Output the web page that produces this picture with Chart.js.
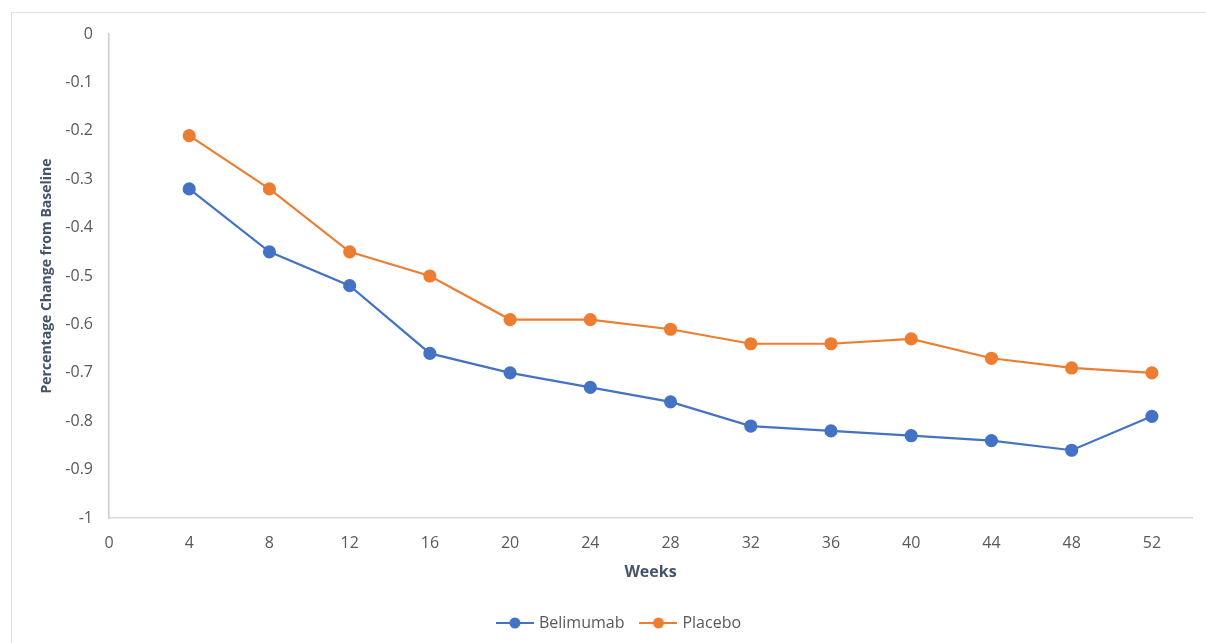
<!DOCTYPE html>
<html>
<head>
<meta charset="utf-8">
<script src="https://cdn.jsdelivr.net/npm/chart.js@4"></script>
<style>
  html, body { margin: 0; padding: 0; background: #ffffff; }
  body { width: 1206px; height: 643px; position: relative; overflow: hidden; }
  #frame {
    position: absolute; left: 11px; top: 12px; width: 1300px; height: 700px;
    border-top: 1px solid #dde0e6; border-left: 1px solid #dde0e6;
  }
  #wrap { position: absolute; left: 0; top: 0; width: 1206px; height: 643px; }
</style>
</head>
<body>
<div id="frame"></div>
<div id="wrap"><canvas id="chart" width="1206" height="643"></canvas></div>
<script>
// Weeks of follow-up
const weeks = [4, 8, 12, 16, 20, 24, 28, 32, 36, 40, 44, 48, 52];
// Mean percentage change from baseline per arm
const belimumab = [-0.32, -0.45, -0.52, -0.66, -0.70, -0.73, -0.76, -0.81, -0.82, -0.83, -0.84, -0.86, -0.79];
const placebo   = [-0.21, -0.32, -0.45, -0.50, -0.59, -0.59, -0.61, -0.64, -0.64, -0.63, -0.67, -0.69, -0.70];
// Axis tick labels
const xTicks = [0, 4, 8, 12, 16, 20, 24, 28, 32, 36, 40, 44, 48, 52];
const yTicks = [0, -0.1, -0.2, -0.3, -0.4, -0.5, -0.6, -0.7, -0.8, -0.9, -1];

const BLUE = '#4472C4';
const ORANGE = '#ED7D31';
const FONT = "'Open Sans', 'Liberation Sans', sans-serif";

// Legend swatch: short line with a marker in the middle
function swatch(color) {
  const c = document.createElement('canvas');
  c.width = 38; c.height = 12;
  const g = c.getContext('2d');
  g.strokeStyle = color; g.lineWidth = 2.2;
  g.beginPath(); g.moveTo(0, 6); g.lineTo(38, 6); g.stroke();
  g.fillStyle = color;
  g.beginPath(); g.arc(19, 6, 5.5, 0, Math.PI * 2); g.fill();
  return c;
}

function toPoints(vals) {
  return weeks.map((w, i) => ({ x: w, y: vals[i] }));
}

const series = [
  { label: 'Belimumab', values: belimumab, color: BLUE },
  { label: 'Placebo', values: placebo, color: ORANGE }
];

new Chart(document.getElementById('chart'), {
  type: 'line',
  data: {
    datasets: series.map(s => ({
      label: s.label,
      data: toPoints(s.values),
      borderColor: s.color,
      backgroundColor: s.color,
      pointBackgroundColor: s.color,
      pointBorderColor: s.color,
      borderWidth: 2.2,
      pointRadius: 5.5,
      pointHoverRadius: 5.5,
      tension: 0,
      fill: false
    }))
  },
  options: {
    responsive: false,
    animation: false,
    events: [],
    layout: { padding: { top: 34, right: 14, bottom: 2, left: 48 } },
    plugins: {
      tooltip: { enabled: false },
      legend: {
        position: 'bottom',
        labels: {
          usePointStyle: true,
          pointStyleWidth: 32,
          boxHeight: 12,
          padding: 18,
          color: '#595959',
          font: { family: FONT, size: 16 },
          generateLabels(chart) {
            return chart.data.datasets.map((d, i) => ({
              text: d.label,
              datasetIndex: i,
              fillStyle: d.borderColor,
              strokeStyle: d.borderColor,
              lineWidth: 0,
              hidden: false,
              pointStyle: swatch(d.borderColor),
              fontColor: '#595959'
            }));
          }
        }
      }
    },
    scales: {
      x: {
        type: 'linear',
        min: 0,
        max: 54,
        afterFit(scale) { scale.height = 79; },
        afterBuildTicks(scale) { scale.ticks = xTicks.map(v => ({ value: v })); },
        grid: { display: false, drawTicks: false },
        border: { display: true, color: '#d9d9d9', width: 1.5 },
        ticks: {
          padding: 16,
          color: '#595959',
          font: { family: FONT, size: 16 },
          maxRotation: 0,
          autoSkip: false,
          callback: v => String(v)
        },
        title: {
          display: true,
          text: 'Weeks',
          color: '#44546A',
          font: { family: FONT, size: 16, weight: 'bold' },
          padding: { top: 0, bottom: 15 }
        }
      },
      y: {
        min: -1,
        max: 0,
        afterFit(scale) { scale.width = 61; },
        afterBuildTicks(scale) { scale.ticks = yTicks.map(v => ({ value: v })); },
        grid: { display: false, drawTicks: false },
        border: { display: true, color: '#c5cad3', width: 1.5 },
        ticks: {
          padding: 16,
          color: '#595959',
          font: { family: FONT, size: 16 },
          autoSkip: false,
          callback: v => String(Math.round(v * 10) / 10)
        },
        title: {
          display: true,
          text: 'Percentage Change from Baseline',
          color: '#44546A',
          font: { family: FONT, size: 14, weight: 'bold' },
          padding: { top: -9.5, bottom: 0 }
        }
      }
    }
  }
});
</script>
</body>
</html>
